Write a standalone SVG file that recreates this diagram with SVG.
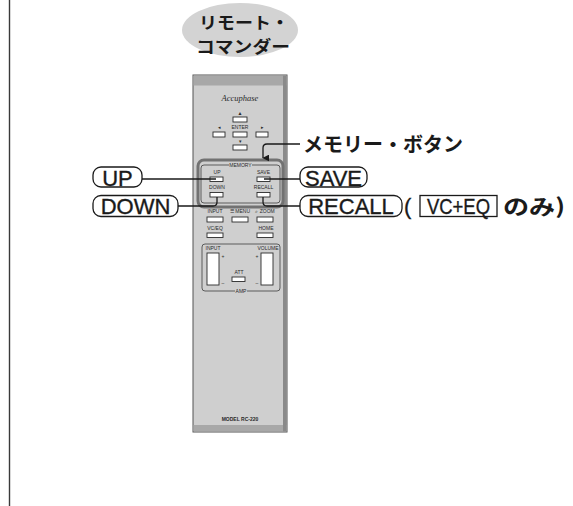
<svg xmlns="http://www.w3.org/2000/svg" width="573" height="506" viewBox="0 0 573 506">
  <defs>
    <marker id="arrowDown" viewBox="0 0 10 10" refX="5" refY="9" markerWidth="7" markerHeight="7" orient="auto-start-reverse" markerUnits="userSpaceOnUse">
      <path d="M0,0 L10,0 L5,10 Z" fill="#1a1a1a"/>
    </marker>
  </defs>
  <style>
    .jp { font-family: "Noto Sans CJK JP", "Noto Sans", sans-serif; fill: #1a1a1a; }
    .lbl { font-family: "Liberation Sans", Arial, sans-serif; font-size: 22px; fill: #1a1a1a; stroke: #1a1a1a; stroke-width: 0.35; }
    .box { fill: #ffffff; stroke: #1a1a1a; stroke-width: 1.3; }
    .btn { fill: #ffffff; stroke: #2a2a2a; stroke-width: 0.9; }
    .tiny { font-family: "Liberation Sans", Arial, sans-serif; font-size: 5px; fill: #2a2a2a; text-anchor: middle; }
    .conn { fill: none; stroke: #1a1a1a; stroke-width: 1.3; }
  </style>
  <rect width="573" height="506" fill="#ffffff"/>

  <!-- page margin rule -->
  <line x1="9.5" y1="0" x2="9.5" y2="506" stroke="#3a3a3a" stroke-width="1.4"/>

  <!-- title bubble -->
  <g id="title">
    <ellipse cx="240" cy="30" rx="58" ry="27" fill="#d3d3d3"/>
    <text class="jp" x="199" y="28.5" font-size="16.5" font-weight="700" textLength="90" lengthAdjust="spacingAndGlyphs">リモート・</text>
    <text class="jp" x="196" y="52.5" font-size="16.5" font-weight="700" textLength="94" lengthAdjust="spacingAndGlyphs">コマンダー</text>
  </g>

  <!-- remote commander body -->
  <g id="remote">
    <rect x="193" y="75" width="94" height="357" fill="#cfcfcf" stroke="#555" stroke-width="1"/>
    <rect x="193.5" y="75.5" width="93" height="10" fill="#a8a8a8"/>
    <rect x="193.5" y="425" width="93" height="6.5" fill="#a8a8a8"/>
    <rect x="283" y="75.5" width="3.5" height="356" fill="#8a8a8a"/>
    <text x="240" y="101" font-family="'Liberation Serif', serif" font-style="italic" font-size="8.5" fill="#2a2a2a" text-anchor="middle">Accuphase</text>

    <!-- cursor keys -->
    <text class="tiny" x="240" y="115">▲</text>
    <rect class="btn" x="233" y="117" width="14" height="5"/>
    <text class="tiny" x="219" y="129">◂</text>
    <rect class="btn" x="213" y="132" width="12" height="5"/>
    <text class="tiny" x="240" y="129">ENTER</text>
    <rect class="btn" x="233" y="132" width="14" height="5"/>
    <text class="tiny" x="262" y="129">▸</text>
    <rect class="btn" x="256" y="132" width="12" height="5"/>
    <text class="tiny" x="240" y="143">▾</text>
    <rect class="btn" x="233" y="145" width="14" height="5"/>

    <!-- memory block -->
    <rect x="198" y="160" width="85" height="47" rx="6" fill="#cfcfcf" stroke="#727272" stroke-width="3"/>
    <path d="M229,165 H204 Q201,165 201,168 V200 Q201,203 204,203 H277 Q280,203 280,200 V168 Q280,165 277,165 H252" fill="none" stroke="#2a2a2a" stroke-width="0.7"/>
    <text class="tiny" x="240.5" y="167">MEMORY</text>
    <text class="tiny" x="217" y="174">UP</text>
    <rect class="btn" x="210" y="177" width="13" height="4.5"/>
    <text class="tiny" x="217" y="189">DOWN</text>
    <rect class="btn" x="210" y="192.5" width="13" height="4.5"/>
    <text class="tiny" x="263.5" y="174">SAVE</text>
    <rect class="btn" x="257" y="177" width="13" height="4.5"/>
    <text class="tiny" x="263.5" y="189">RECALL</text>
    <rect class="btn" x="257" y="192.5" width="13" height="4.5"/>

    <!-- function keys -->
    <text class="tiny" x="215" y="213">INPUT</text>
    <rect class="btn" x="207" y="217" width="16" height="5"/>
    <text class="tiny" x="240" y="213">☰ MENU</text>
    <rect class="btn" x="232" y="217" width="16" height="5"/>
    <text class="tiny" x="265" y="213">⌕ ZOOM</text>
    <rect class="btn" x="257" y="217" width="16" height="5"/>
    <text class="tiny" x="215" y="230">VC/EQ</text>
    <rect class="btn" x="207" y="233" width="16" height="4.5"/>
    <text class="tiny" x="266" y="230">HOME</text>
    <rect class="btn" x="257" y="233" width="16" height="4.5"/>

    <!-- amp block -->
    <path d="M235,291 H205 Q202,291 202,288 V247 Q202,244 205,244 H277 Q280,244 280,247 V288 Q280,291 277,291 H247" fill="none" stroke="#2a2a2a" stroke-width="0.7"/>
    <text class="tiny" x="241" y="293">AMP</text>
    <text class="tiny" x="213" y="250">INPUT</text>
    <text class="tiny" x="268" y="250">VOLUME</text>
    <rect class="btn" x="207" y="253" width="12" height="32"/>
    <text class="tiny" x="223" y="258" font-size="6">+</text>
    <text class="tiny" x="223" y="285" font-size="6">–</text>
    <rect class="btn" x="261" y="253" width="12" height="32"/>
    <text class="tiny" x="257" y="258" font-size="6">+</text>
    <text class="tiny" x="257" y="285" font-size="6">–</text>
    <text class="tiny" x="239" y="274">ATT</text>
    <rect class="btn" x="232" y="277" width="13" height="4.5"/>

    <text x="240" y="421" font-family="'Liberation Sans', Arial, sans-serif" font-size="5" font-weight="700" fill="#2a2a2a" text-anchor="middle">MODEL RC-220</text>
  </g>

  <!-- connectors -->
  <g id="connectors">
    <path class="conn" d="M300,144 H267 Q263,144 263,148 V158" marker-end="url(#arrowDown)"/>
    <path class="conn" d="M142,179 H216"/>
    <path class="conn" d="M178,206 H213 Q217,206 217,202 V197"/>
    <path class="conn" d="M300,179 H264"/>
    <path class="conn" d="M300,206 H267 Q263,206 263,202 V197"/>
  </g>

  <!-- callout labels -->
  <g id="label-memory">
    <text class="jp" x="303" y="152" font-size="20" font-weight="700">メモリー・ボタン</text>
  </g>
  <g id="label-up">
    <rect class="box" x="93" y="167" width="49" height="20" rx="8"/>
    <text class="lbl" x="117.5" y="185.5" text-anchor="middle">UP</text>
  </g>
  <g id="label-down">
    <rect class="box" x="93" y="195.5" width="85" height="21" rx="8"/>
    <text class="lbl" x="135.5" y="214" text-anchor="middle">DOWN</text>
  </g>
  <g id="label-save">
    <rect class="box" x="300" y="167" width="67" height="20" rx="8"/>
    <text class="lbl" x="333.5" y="185.5" text-anchor="middle">SAVE</text>
  </g>
  <g id="label-recall">
    <rect class="box" x="300" y="195.5" width="102" height="21" rx="8"/>
    <text class="lbl" x="351" y="214" text-anchor="middle">RECALL</text>
    <text class="lbl" x="404" y="214">(</text>
    <rect x="420" y="195.5" width="77" height="21" fill="#ffffff" stroke="#1a1a1a" stroke-width="1.3"/>
    <text class="lbl" x="427" y="214" textLength="63" lengthAdjust="spacingAndGlyphs">VC+EQ</text>
    <text class="jp" x="503" y="214" font-size="21" font-weight="700" textLength="62" lengthAdjust="spacingAndGlyphs">のみ)</text>
  </g>
</svg>
